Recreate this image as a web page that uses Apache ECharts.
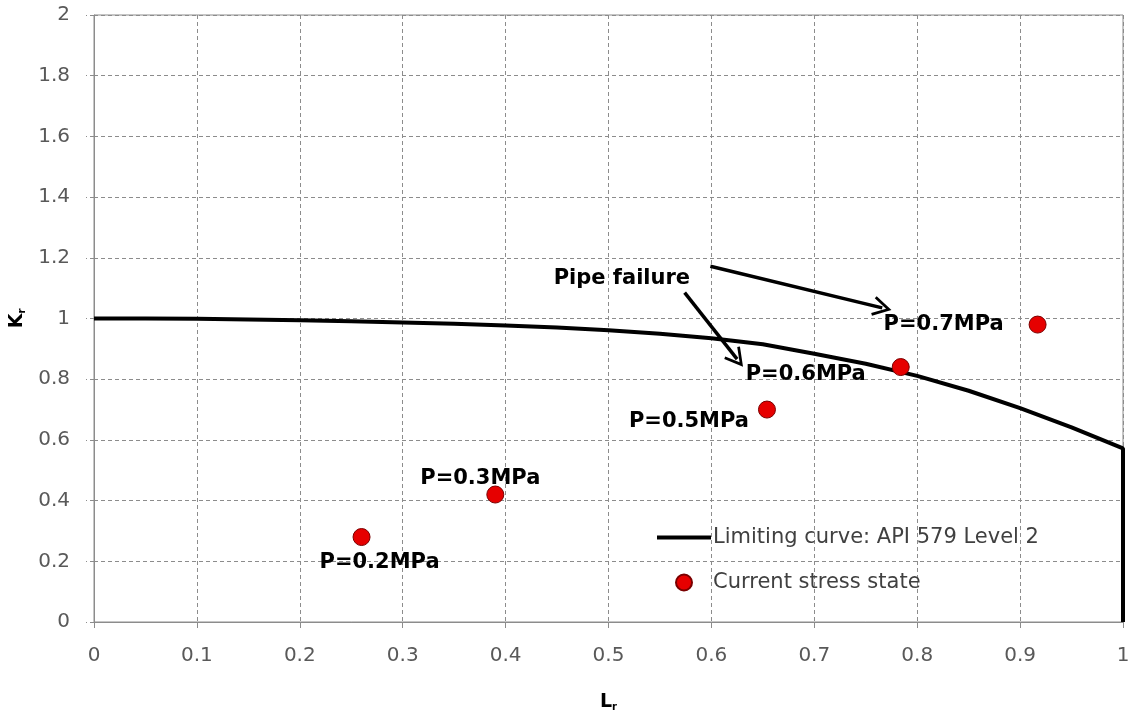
<!DOCTYPE html>
<html>
<head>
<meta charset="utf-8">
<script src="https://cdn.jsdelivr.net/npm/echarts@6/dist/echarts.min.js"></script>
<style>
	html, body { margin: 0; padding: 0; background: #fff; }
	#chart { width: 1132px; height: 715px; }
</style>
</head>
<body>
<div id="chart"></div>
<script>
// limiting curve
const curveLr = [0, 0.05, 0.1, 0.15, 0.2, 0.25, 0.3, 0.35, 0.4, 0.45, 0.5, 0.55, 0.6, 0.65, 0.7, 0.75, 0.8, 0.85, 0.9, 0.95, 1, 1]
const curveKr = [1, 1, 0.999, 0.997, 0.994, 0.991, 0.987, 0.983, 0.977, 0.97, 0.961, 0.95, 0.935, 0.915, 0.884, 0.851, 0.811, 0.762, 0.705, 0.641, 0.572, 0]

// current stress state points
const stateLabels = ["P=0.2MPa", "P=0.3MPa", "P=0.5MPa", "P=0.6MPa", "P=0.7MPa"]
const stateLr = [0.26, 0.39, 0.654, 0.784, 0.917]
const stateKr = [0.28, 0.42, 0.7, 0.84, 0.98]

// annotation arrows [start, end] in data units
const arrowStarts = [[0.599, 1.172], [0.574, 1.085]]
const arrowEnds = [[0.766, 1.035], [0.625, 0.866]]
const noteText = "Pipe failure"
const notePos = [0.513, 1.13]

const font = "DejaVu Sans"
// offsets of the point labels from the dots (pixels)
const labelOffsets = [[18, 26], [-15, -16], [-78, 12], [-95, 7], [-94, 0]]

let chart = echarts.init(document.getElementById("chart"))

let curveData = curveLr.map((x, i) => [x, curveKr[i]])
let stateData = stateLr.map((x, i) => ({
	value: [x, stateKr[i]],
	label: { offset: labelOffsets[i] },
	name: stateLabels[i],
}))
let arrows = arrowStarts.map((s, i) => [{ coord: s }, { coord: arrowEnds[i] }])

const boldText = { fontFamily: font, fontSize: 21, fontWeight: "bold", color: "#000" }

let option = {
	animation: false,
	backgroundColor: "#fff",
	textStyle: { fontFamily: font },
	grid: {
		left: 94,
		right: 9,
		top: 15,
		bottom: 93,
		outerBoundsMode: "none",
		containLabel: false,
		show: true,
		borderColor: "#8c8c8c",
		borderWidth: 1,
	},
	legend: {
		orient: "vertical",
		left: 652,
		top: 522,
		itemWidth: 54,
		itemHeight: 16,
		itemGap: 24,
		textStyle: { fontFamily: font, fontSize: 21, color: "#404040", padding: [0, 0, 0, -3] },
		data: [
			{ name: "Limiting curve: API 579 Level 2", icon: "path://M0,0 L54,0 L54,4 L0,4 Z" },
			{ name: "Current stress state" },
		],
	},
	xAxis: {
		type: "value",
		min: 0,
		max: 1,
		interval: 0.1,
		name: "L{s|r}",
		nameLocation: "middle",
		nameGap: 70,
		nameTextStyle: {
			fontFamily: font,
			fontSize: 19,
			fontWeight: "bold",
			color: "#000",
			rich: { s: { fontSize: 10, fontWeight: "bold", verticalAlign: "bottom", padding: [10, 0, 0, 0] } },
		},
		axisLine: { lineStyle: { color: "#8c8c8c", width: 1 } },
		axisTick: { show: true, length: 6, lineStyle: { color: "#8c8c8c" } },
		axisLabel: { fontFamily: font, fontSize: 20, color: "#595959", margin: 24 },
		splitLine: { show: true, lineStyle: { color: "#8c8c8c", type: [4, 3], width: 1 } },
	},
	yAxis: {
		type: "value",
		min: 0,
		max: 2,
		interval: 0.2,
		name: "K{s|r}",
		nameLocation: "middle",
		nameGap: 66,
		nameRotate: 90,
		nameTextStyle: {
			fontFamily: font,
			fontSize: 19,
			fontWeight: "bold",
			color: "#000",
			rich: { s: { fontSize: 10, fontWeight: "bold", verticalAlign: "bottom", padding: [10, 0, 0, 0] } },
		},
		axisLine: { show: true, lineStyle: { color: "#8c8c8c", width: 1 } },
		axisTick: { show: true, length: 8, lineStyle: { color: "#8c8c8c", type: [4, 3] } },
		axisLabel: { fontFamily: font, fontSize: 20, color: "#595959", margin: 24 },
		splitLine: { show: true, lineStyle: { color: "#8c8c8c", type: [4, 3], width: 1 } },
	},
	series: [
		{
			name: "Limiting curve: API 579 Level 2",
			type: "line",
			data: curveData,
			symbol: "none",
			smooth: false,
			lineStyle: { color: "#000", width: 4 },
			itemStyle: { color: "#000" },
			z: 2,
			markLine: {
				silent: true,
				symbol: ["none", "path://M0,0 L11,19 L8.4,20.5 L0,6 L-8.4,20.5 L-11,19 Z"],
				symbolSize: [20, 19],
				lineStyle: { color: "#000", width: 3.5, type: "solid" },
				label: { show: false },
				data: arrows,
			},
			markPoint: {
				silent: true,
				symbol: "rect",
				symbolSize: 1,
				itemStyle: { color: "rgba(0,0,0,0)" },
				label: {
					show: true,
					position: "inside",
					formatter: "{b|" + noteText + "}",
					rich: { b: boldText },
				},
				data: [{ coord: notePos }],
			},
		},
		{
			name: "Current stress state",
			type: "scatter",
			data: stateData,
			symbol: "circle",
			symbolSize: 17,
			itemStyle: { color: "#e60000", borderColor: "#7a0000", borderWidth: 1, opacity: 1 },
			label: {
				show: true,
				position: "inside",
				formatter: (p) => "{b|" + p.name + "}",
				rich: { b: boldText },
				textBorderWidth: 0,
				opacity: 1,
			},
			z: 3,
		},
	],
}
chart.setOption(option)
</script>
</body>
</html>
